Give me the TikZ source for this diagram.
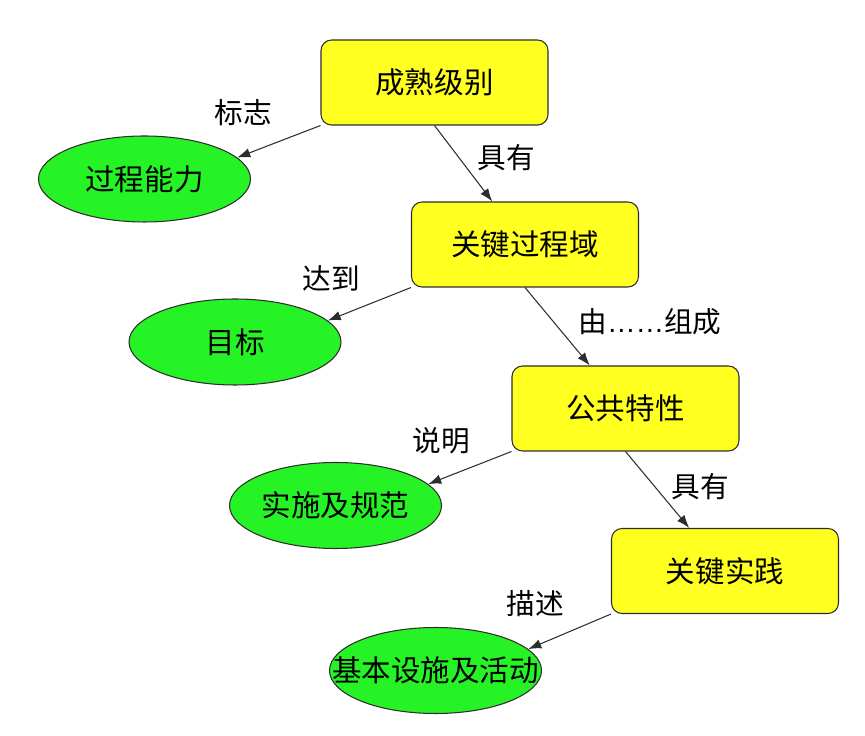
\documentclass[tikz,border=0pt]{standalone}
\usepackage{fontspec}
\setmainfont{Noto Sans CJK SC}
\newfontfamily\dotfont{Liberation Sans}
\usetikzlibrary{arrows.meta,shapes.geometric}

\definecolor{boxyellow}{RGB}{255,255,32}
\definecolor{ovalgreen}{RGB}{38,243,38}
\definecolor{edgegray}{RGB}{45,45,45}

\begin{document}
\begin{tikzpicture}[
  level/.style={draw=edgegray, fill=boxyellow, line width=0.6pt, rounded corners=6pt,
    minimum width=4.54cm, minimum height=1.70cm, inner sep=0pt, font=\fontsize{16.8}{18}\selectfont},
  oval/.style={ellipse, draw=edgegray, fill=ovalgreen, line width=0.6pt,
    minimum width=4.24cm, minimum height=1.72cm, inner sep=0pt, font=\fontsize{16.8}{18}\selectfont},
  rel/.style={-{Latex[length=2.6mm,width=1.9mm]}, line width=0.6pt, draw=edgegray},
  tag/.style={inner sep=1pt, font=\fontsize{16.3}{17}\selectfont}
]
\useasboundingbox (0,0) rectangle (17.3,14.7);

% Main chain of yellow boxes, one level per step down and right.
\node[level] (maturity) at (8.69,13.05) {成熟级别};
\node[level] (kpa)      at (10.50,9.81) {关键过程域};
\node[level] (common)   at (12.51,6.53) {公共特性};
\node[level] (practice) at (14.50,3.28) {关键实践};

% Green ovals hanging off each box.
\node[oval] (capability) at (2.89,11.12) {过程能力};
\node[oval] (goal)       at (4.70,7.86)  {目标};
\node[oval] (norm)       at (6.71,4.59)  {实施及规范};
\node[oval] (activity)   at (8.71,1.29)  {\makebox[0pt]{基本设施及活动}};

% Connectors.
\draw[rel] (maturity.south west) -- (capability.13);
\draw[rel] (maturity.south) -- (kpa);
\draw[rel] (kpa.south west) -- (goal.13);
\draw[rel] (kpa.south) -- (common);
\draw[rel] (common.south west) -- (norm.13);
\draw[rel] (common.south) -- (practice);
\draw[rel] (practice.south west) -- (activity.13);

% Relation labels.
\node[tag] (t1) at (4.86,12.44) {标志};
\node[tag] (t2) at (10.12,11.54) {具有};
\node[tag] (t3) at (6.62,9.14) {达到};
\node[tag] (t4) at (13.00,8.26) {由{\dotfont ……}组成};
\node[tag] (t5) at (8.82,5.88) {说明};
\node[tag] (t6) at (14.00,4.96) {具有};
\node[tag] (t7) at (10.70,2.62) {描述};

\end{tikzpicture}
\end{document}
